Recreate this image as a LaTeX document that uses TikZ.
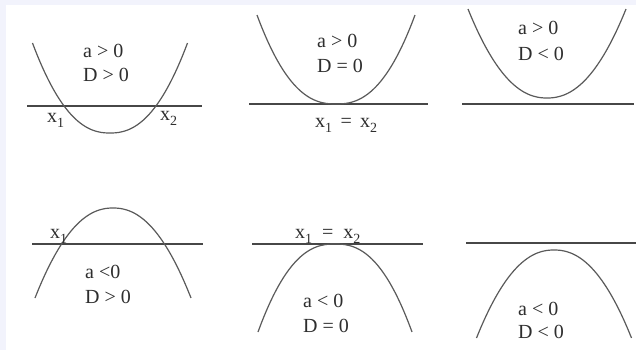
\documentclass[tikz,border=0pt]{standalone}
\usepackage{fontspec}
\setmainfont{Liberation Serif}
\definecolor{lav}{HTML}{F2F3FC}
\definecolor{inkc}{HTML}{2E2E2E}
\definecolor{axc}{HTML}{474747}
\definecolor{crv}{HTML}{5A5A5A}
\newcommand{\xsub}[1]{x{\fontsize{14}{14}\selectfont\raisebox{-5pt}{#1}}}
\begin{document}
\begin{tikzpicture}[x=1pt,y=-1pt,
  lbl/.style={anchor=base west,inner sep=0pt,text=inkc,font=\fontsize{20}{20}\selectfont},
  axis/.style={draw=axc,line width=1.3pt},
  curve/.style={draw=crv,line width=1.2pt}]
\useasboundingbox (0,0) rectangle (636,350);
\fill[lav] (0,0) rectangle (636,350);
\fill[white] (6,5) rectangle (636,350);
% panel 1
\coordinate (l1a) at (27,106); \coordinate (l1b) at (202,106);
\draw[axis] (l1a) -- (l1b);
\draw[curve] plot[domain=-77.5:77.5,samples=101] ({110+\x},{133-90*pow(abs(\x)/77.5,2.3)});
\node[lbl] (t1a) at (83,58) {a > 0};
\node[lbl] (t1b) at (83,82) {D > 0};
\node[lbl] (t1c) at (47,122) {\xsub{1}};
\node[lbl] (t1d) at (160,121) {\xsub{2}};
% panel 2
\coordinate (l2a) at (249,104); \coordinate (l2b) at (428,104);
\draw[axis] (l2a) -- (l2b);
\draw[curve] plot[domain=-79:79,samples=101] ({336+\x},{104-89*pow(abs(\x)/79,2.4)});
\node[lbl] (t2a) at (317,48) {a > 0};
\node[lbl] (t2b) at (317,73) {D = 0};
\node[lbl] (t2c) at (315,128) {\xsub{1}\,\ =\ \,\xsub{2}};
% panel 3
\coordinate (l3a) at (462,104); \coordinate (l3b) at (634,104);
\draw[axis] (l3a) -- (l3b);
\draw[curve] plot[domain=-79:79,samples=101] ({547+\x},{98-89*pow(abs(\x)/79,2.2)});
\node[lbl] (t3a) at (518,35) {a > 0};
\node[lbl] (t3b) at (518,61) {D < 0};
% panel 4
\coordinate (l4a) at (32,244); \coordinate (l4b) at (203,244);
\draw[axis] (l4a) -- (l4b);
\draw[curve] plot[domain=-78:78,samples=101] ({113+\x},{208+90*pow(abs(\x)/78,2.2)});
\node[lbl] (t4a) at (85,278) {a <0};
\node[lbl] (t4b) at (85,303) {D > 0};
\node[lbl] (t4c) at (50,238) {\xsub{1}};
% panel 5
\coordinate (l5a) at (252,244); \coordinate (l5b) at (423,244);
\draw[axis] (l5a) -- (l5b);
\draw[curve] plot[domain=-77:77,samples=101] ({335+\x},{244+88*pow(abs(\x)/77,2.4)});
\node[lbl] (t5c) at (295,238) {\xsub{1}\ \ =\ \ \xsub{2}};
\node[lbl] (t5a) at (303,307) {a < 0};
\node[lbl] (t5b) at (303,332) {D = 0};
% panel 6
\coordinate (l6a) at (466,243); \coordinate (l6b) at (636,243);
\draw[axis] (l6a) -- (l6b);
\draw[curve] plot[domain=-77.5:77.5,samples=101] ({554+\x},{250+88*pow(abs(\x)/77.5,2.2)});
\node[lbl] (t6a) at (518,315) {a < 0};
\node[lbl] (t6b) at (518,338) {D < 0};
\end{tikzpicture}
\end{document}
